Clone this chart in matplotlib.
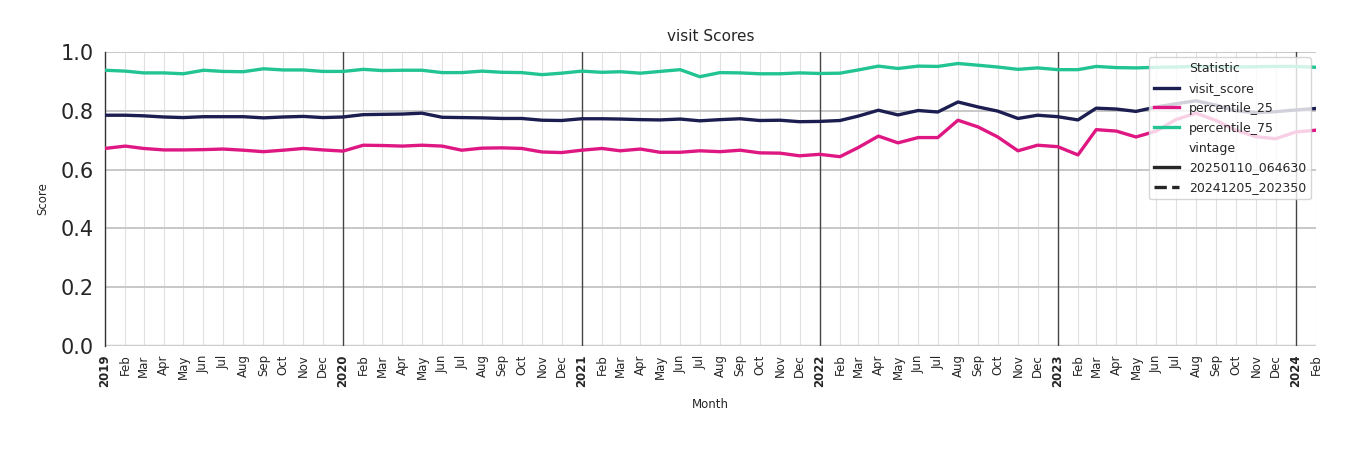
import matplotlib
matplotlib.use("Agg")
import matplotlib.pyplot as plt
from matplotlib.lines import Line2D
import pandas as pd

months = pd.date_range("2019-01-01", "2024-02-01", freq="MS")

visit_score = [
    0.785, 0.785, 0.783, 0.779, 0.777, 0.780, 0.780, 0.780, 0.776, 0.779, 0.781, 0.777,
    0.779, 0.787, 0.788, 0.789, 0.792, 0.778, 0.777, 0.776, 0.774, 0.774, 0.768, 0.767,
    0.773, 0.773, 0.772, 0.770, 0.769, 0.772, 0.766, 0.770, 0.773, 0.767, 0.768, 0.763,
    0.764, 0.767, 0.782, 0.802, 0.786, 0.801, 0.796, 0.830, 0.813, 0.799, 0.774, 0.785,
    0.780, 0.769, 0.809, 0.806, 0.798, 0.813, 0.824, 0.834, 0.819, 0.800, 0.794, 0.797,
    0.803, 0.808,
]
percentile_25 = [
    0.672, 0.680, 0.672, 0.667, 0.667, 0.668, 0.670, 0.666, 0.661, 0.666, 0.672, 0.667,
    0.663, 0.683, 0.682, 0.680, 0.683, 0.680, 0.666, 0.673, 0.674, 0.672, 0.660, 0.658,
    0.666, 0.672, 0.664, 0.670, 0.659, 0.659, 0.664, 0.661, 0.666, 0.657, 0.656, 0.647,
    0.652, 0.644, 0.675, 0.714, 0.691, 0.709, 0.709, 0.768, 0.745, 0.711, 0.664, 0.683,
    0.678, 0.650, 0.736, 0.731, 0.711, 0.731, 0.770, 0.792, 0.767, 0.734, 0.712, 0.705,
    0.728, 0.734,
]
percentile_75 = [
    0.938, 0.935, 0.929, 0.929, 0.926, 0.938, 0.934, 0.933, 0.943, 0.939, 0.939, 0.934,
    0.934, 0.941, 0.937, 0.938, 0.938, 0.930, 0.930, 0.935, 0.931, 0.930, 0.923, 0.928,
    0.935, 0.931, 0.933, 0.928, 0.934, 0.940, 0.916, 0.930, 0.929, 0.926, 0.926, 0.929,
    0.927, 0.928, 0.939, 0.952, 0.944, 0.952, 0.951, 0.961, 0.955, 0.949, 0.941, 0.946,
    0.940, 0.940, 0.951, 0.947, 0.946, 0.948, 0.949, 0.951, 0.950, 0.949, 0.950, 0.951,
    0.951, 0.948,
]
series_names = ["visit_score", "percentile_25", "percentile_75"]
colors = ["#1C1D50", "#DE1783", "#23C493"]
vintages = ["20250110_064630", "20241205_202350"]

fig = plt.figure(figsize=(13.5, 4.5), dpi=100)
ax = fig.add_axes([0.0778, 0.2311, 0.8970, 0.6533])

for name, vals, c in zip(series_names, [visit_score, percentile_25, percentile_75], colors):
    ax.plot(months, vals, color=c, lw=2.4, solid_capstyle="round", zorder=3)

ax.set_xlim(months[0], months[-1])
ax.set_ylim(0, 1.0)
ax.set_yticks([0.0, 0.2, 0.4, 0.6, 0.8, 1.0])
ax.set_yticklabels(["0.0", "0.2", "0.4", "0.6", "0.8", "1.0"], fontsize=15, color="#262626")

# month grid
for m in months:
    if m.month == 1 and m != months[0]:
        ax.axvline(m, color="#444444", lw=1.0, zorder=2)
    else:
        ax.axvline(m, color="#e0e0e0", lw=0.8, zorder=1)
for yv in [0.2, 0.4, 0.6, 0.8, 1.0]:
    ax.axhline(yv, color="#c8c8c8", lw=1.4, zorder=1)
ax.axhline(0.0, color="#cccccc", lw=2.5, zorder=1)

ax.set_xticks(months)
labels = [str(m.year) if m.month == 1 else m.strftime("%b") for m in months]
ax.set_xticklabels(labels, rotation=90, fontsize=8.5, color="#262626")
for lab, m in zip(ax.get_xticklabels(), months):
    if m.month == 1:
        lab.set_fontweight("bold")
ax.tick_params(axis="both", length=0)
ax.tick_params(axis="x", pad=6)
ax.tick_params(axis="y", pad=8)

for s in ["top", "right", "bottom"]:
    ax.spines[s].set_visible(False)
ax.spines["left"].set_color("#333333")
ax.spines["left"].set_linewidth(1.0)

ax.set_title("visit Scores", fontsize=11, color="#262626", pad=8)
ax.set_ylabel("Score", fontsize=8.5, color="#262626", labelpad=8)
ax.set_xlabel("Month", fontsize=8.5, color="#262626", labelpad=8)

handles = [Line2D([], [], linestyle="none")]
lbls = ["Statistic"]
for name, c in zip(series_names, colors):
    handles.append(Line2D([], [], color=c, lw=2.4))
    lbls.append(name)
handles.append(Line2D([], [], linestyle="none"))
lbls.append("vintage")
handles.append(Line2D([], [], color="#262626", lw=2.4, ls="-"))
lbls.append(vintages[0])
handles.append(Line2D([], [], color="#262626", lw=2.4, ls="--"))
lbls.append(vintages[1])
leg = ax.legend(handles, lbls, loc="upper right", fontsize=9, frameon=True,
                framealpha=0.8, edgecolor="#cccccc", borderaxespad=0.4,
                handlelength=2.0, labelspacing=0.55)
for t in leg.get_texts():
    t.set_color("#262626")

fig.savefig("out.png", dpi=100)
